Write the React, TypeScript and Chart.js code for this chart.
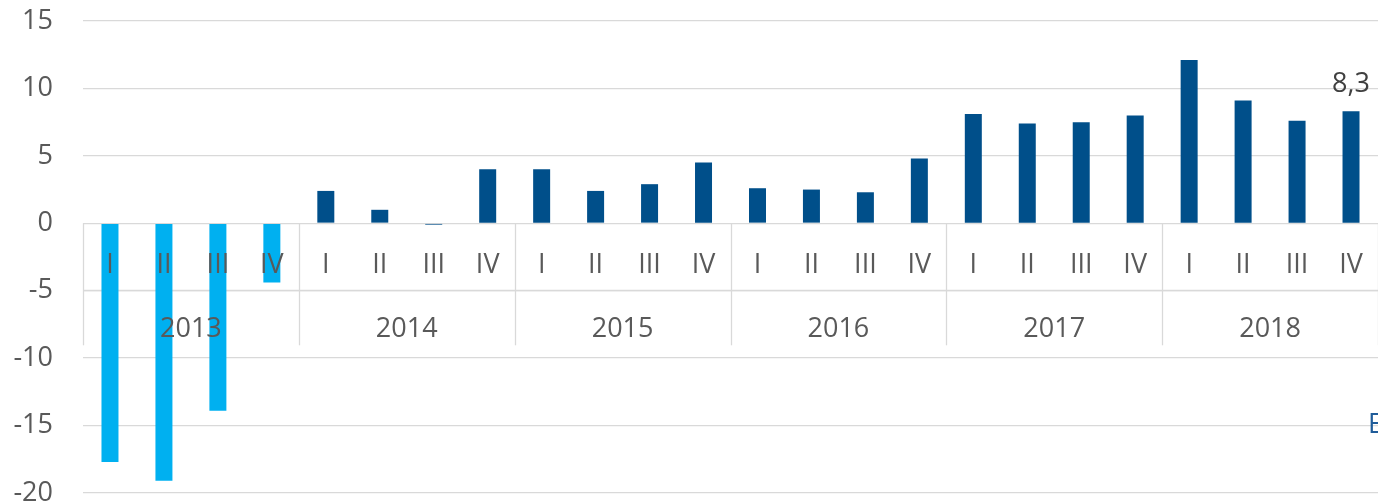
import { useEffect, useRef } from "react";
import { Chart, registerables } from "chart.js";

Chart.register(...registerables);

const years = ["2013", "2014", "2015", "2016", "2017", "2018"];
const quarters = ["I", "II", "III", "IV"];
const growth = [
  -17.7, -19.1, -13.9, -4.4,
  2.4, 1.0, -0.1, 4.0,
  4.0, 2.4, 2.9, 4.5,
  2.6, 2.5, 2.3, 4.8,
  8.1, 7.4, 7.5, 8.0,
  12.1, 9.1, 7.6, 8.3,
];
const highlightedYears = ["2013"];
const yMin = -20;
const yMax = 15;
const yStep = 5;
const lastLabel = "8,3";
const cutLegendText = "E";

const FONT = "'Open Sans', sans-serif";
const TEXT = "#595959";
const LIGHT = "#00B0F0";
const DARK = "#004F8A";
const GRID = "#D9D9D9";

const categories = years.flatMap((yr) => quarters.map((q) => `${q} ${yr}`));
const barColors = years.flatMap((yr) =>
  quarters.map(() => (highlightedYears.includes(yr) ? LIGHT : DARK))
);

const axisTable = {
  id: "axisTable",
  beforeDatasetsDraw(chart: any) {
    const { ctx, chartArea, scales } = chart;
    const x = scales.x;
    const y = scales.y;
    const y0 = y.getPixelForValue(0);
    const cw = x.getPixelForValue(1) - x.getPixelForValue(0);
    ctx.save();
    ctx.strokeStyle = GRID;
    ctx.lineWidth = 1.3;
    ctx.beginPath();
    ctx.moveTo(chartArea.left, Math.round(y0 + 67) + 0.5);
    ctx.lineTo(chartArea.right, Math.round(y0 + 67) + 0.5);
    ctx.stroke();
    for (let k = 0; k <= years.length; k++) {
      const xi = x.getPixelForValue(k * quarters.length) - cw / 2;
      ctx.beginPath();
      ctx.moveTo(Math.round(xi) + 0.5, y0);
      ctx.lineTo(Math.round(xi) + 0.5, y0 + 122);
      ctx.stroke();
    }
    ctx.restore();
  },
  afterDatasetsDraw(chart: any) {
    const { ctx, scales } = chart;
    const x = scales.x;
    const y = scales.y;
    const y0 = y.getPixelForValue(0);
    ctx.save();
    ctx.fillStyle = TEXT;
    ctx.font = `27px ${FONT}`;
    ctx.textAlign = "center";
    ctx.textBaseline = "alphabetic";
    years.forEach((yr, yi) => {
      quarters.forEach((q, qi) => {
        const idx = yi * quarters.length + qi;
        ctx.fillText(q, x.getPixelForValue(idx), y0 + 50);
      });
      const mid =
        (x.getPixelForValue(yi * quarters.length) +
          x.getPixelForValue(yi * quarters.length + quarters.length - 1)) /
        2;
      ctx.fillText(yr, mid, y0 + 114);
    });
    const li = growth.length - 1;
    ctx.fillStyle = "#404040";
    ctx.fillText(lastLabel, x.getPixelForValue(li), y.getPixelForValue(growth[li]) - 19);
    ctx.textAlign = "left";
    ctx.fillStyle = "#1F5C99";
    ctx.fillText(cutLegendText, 1368, y.getPixelForValue(-15) + 7);
    ctx.restore();
  },
};

export default function App() {
  const ref = useRef<HTMLCanvasElement>(null);
  useEffect(() => {
    if (!ref.current) return;
    const chart = new Chart(ref.current, {
      type: "bar",
      data: {
        labels: categories,
        datasets: [
          {
            data: growth,
            backgroundColor: barColors,
            borderWidth: 0,
            barPercentage: 0.63,
            categoryPercentage: 0.5,
          },
        ],
      },
      options: {
        responsive: false,
        animation: false,
        devicePixelRatio: 1,
        layout: { padding: { top: 21, bottom: 11, left: 0, right: 0 } },
        plugins: {
          legend: { display: false },
          tooltip: { enabled: false },
        },
        scales: {
          x: { display: false },
          y: {
            min: yMin,
            max: yMax,
            ticks: {
              stepSize: yStep,
              padding: 30,
              color: TEXT,
              font: { family: FONT, size: 27 },
            },
            grid: { color: GRID, lineWidth: 1.3, drawTicks: false },
            border: { display: false },
            afterFit: (scale: any) => {
              scale.width = 83;
              scale.paddingTop = 0;
              scale.paddingBottom = 0;
            },
          },
        },
      },
      plugins: [axisTable],
    });
    return () => chart.destroy();
  }, []);
  return (
    <div style={{ position: "fixed", left: 0, top: 0, width: 1378, height: 504, background: "#fff" }}>
      <canvas ref={ref} width={1378} height={504} />
    </div>
  );
}
